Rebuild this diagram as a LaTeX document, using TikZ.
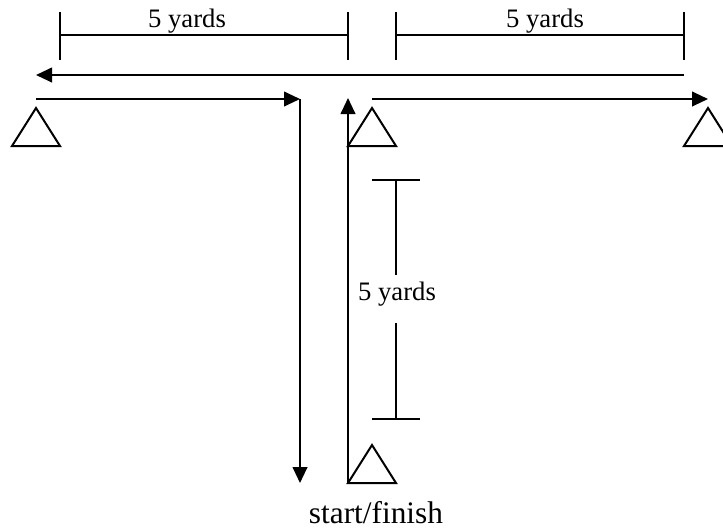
\documentclass[tikz,border=0pt]{standalone}
\usepackage{fontspec}
\setmainfont{Liberation Serif}
\usetikzlibrary{arrows.meta}
\tikzset{
  cone/.pic={\draw (-24,0) -- (0,-38) -- (24,0) -- cycle;},
  run/.style={-{Triangle[length=12pt,width=11pt]}},
  yards/.style={font=\fontsize{20}{24}\selectfont,inner sep=0pt},
}
\begin{document}
\begin{tikzpicture}[x=0.75pt,y=-0.75pt,line width=1.5pt]
  \useasboundingbox (0,0) rectangle (723,529);
  % cones
  \coordinate (leftcone) at (36,146);
  \coordinate (midcone) at (372,146);
  \coordinate (rightcone) at (708,146);
  \coordinate (startcone) at (372,483);
  \foreach \c in {leftcone,midcone,rightcone,startcone}
    \pic at (\c) {cone};
  % route
  \coordinate (up0) at (348,483);
  \coordinate (up1) at (348,98);
  \coordinate (r0) at (372,99);
  \coordinate (r1) at (708,99);
  \coordinate (back0) at (684,75);
  \coordinate (back1) at (36,75);
  \coordinate (l0) at (36,99);
  \coordinate (l1) at (300,99);
  \coordinate (down1) at (300,483);
  \draw[run] (up0) -- (up1);
  \draw[run] (r0) -- (r1);
  \draw[run] (back0) -- (back1);
  \draw[run] (l0) -- (l1);
  \draw[run] (l1) -- (down1);
  % distances
  \draw (60,12) -- (60,60) (60,35) -- (348,35) (348,12) -- (348,60);
  \draw (396,12) -- (396,60) (396,35) -- (684,35) (684,12) -- (684,60);
  \node[yards,anchor=base] (topleft) at (187,27) {5 yards};
  \node[yards,anchor=base] (topright) at (545,27) {5 yards};
  \draw (372,180) -- (420,180) (396,180) -- (396,275)
        (396,323) -- (396,419) (372,419) -- (420,419);
  \node[yards] (side) at (397,294) {5 yards};
  \node[font=\fontsize{23.5}{28}\selectfont,inner sep=0pt,anchor=base] (start) at (376,523) {start/finish};
\end{tikzpicture}
\end{document}
